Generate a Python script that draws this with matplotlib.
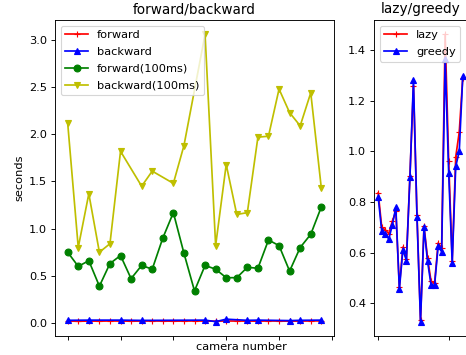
import numpy as np
import matplotlib
matplotlib.use('Agg')
import matplotlib.pyplot as plt

# camera indices
cams = list(range(25))
cams_back = [0, 2, 5, 7, 13, 14, 15, 17, 18, 21, 22, 24]
cams_back100 = [0, 1, 2, 3, 4, 5, 7, 8, 10, 11, 13, 14, 15, 16, 17, 18, 19, 20, 21, 22, 23, 24]

forward = [0.020, 0.018, 0.020, 0.019, 0.021, 0.020, 0.019, 0.020, 0.021, 0.020, 0.019, 0.020, 0.021,
           0.020, 0.019, 0.021, 0.020, 0.020, 0.019, 0.021, 0.020, 0.019, 0.020, 0.021, 0.022]
backward = [0.028, 0.030, 0.030, 0.027, 0.030, 0.014, 0.040, 0.028, 0.030, 0.025, 0.028, 0.030]
forward100 = [0.75, 0.60, 0.66, 0.39, 0.63, 0.715, 0.47, 0.61, 0.57, 0.90, 1.17, 0.74, 0.34,
              0.61, 0.57, 0.48, 0.48, 0.59, 0.58, 0.88, 0.82, 0.55, 0.80, 0.94, 1.23]
backward100 = [2.12, 0.80, 1.37, 0.75, 0.84, 1.82, 1.45, 1.61, 1.48, 1.88, 3.06,
               0.82, 1.68, 1.15, 1.17, 1.97, 1.98, 2.48, 2.23, 2.09, 2.44, 1.43]

lazy = [0.836, 0.700, 0.690, 0.675, 0.724, 0.763, 0.465, 0.622, 0.575, 0.903, 1.259, 0.749, 0.335,
        0.705, 0.579, 0.487, 0.480, 0.638, 0.618, 1.461, 0.962, 0.569, 0.978, 1.076, 1.290]
greedy = [0.818, 0.684, 0.675, 0.654, 0.709, 0.779, 0.455, 0.612, 0.569, 0.897, 1.281, 0.742, 0.328,
          0.700, 0.566, 0.472, 0.472, 0.625, 0.604, 1.363, 0.915, 0.560, 0.940, 1.000, 1.297]

dpi = 82
W, H = 466, 355
fig = plt.figure(figsize=(W / dpi, H / dpi), dpi=dpi)
ax1 = fig.add_axes([55 / W, 19 / H, 279 / W, 316 / H])
ax2 = fig.add_axes([374 / W, 19 / H, 93 / W, 316 / H])

ax1.plot(cams, forward, 'r+-', label='forward')
ax1.plot(cams_back, backward, 'b^-', label='backward')
ax1.plot(cams, forward100, 'go-', label='forward(100ms)')
ax1.plot(cams_back100, backward100, 'yv-', label='backward(100ms)')
ax1.set_title('forward/backward')
ax1.set_ylabel('seconds')
ax1.set_xticklabels([])
ax1.legend(loc='upper left', labelspacing=0.6)

ax2.plot(cams, lazy, 'r+-', label='lazy')
ax2.plot(cams, greedy, 'b^-', label='greedy')
ax2.set_title('lazy/greedy')
ax2.set_xticklabels([])
ax2.legend(loc='upper left', labelspacing=0.6)

fig.text(241.7 / W, 5 / H, 'camera number', ha='center', va='baseline')

fig.savefig('out.png', dpi=dpi)
